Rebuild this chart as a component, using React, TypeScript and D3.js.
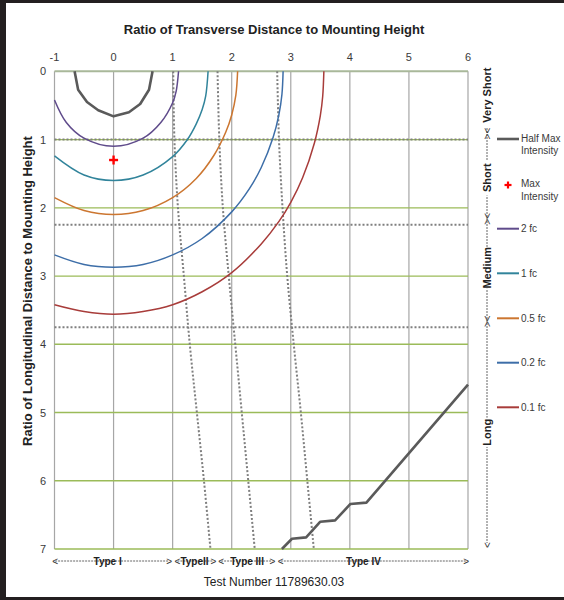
import React from 'react';
import * as d3 from 'd3';

// ---------- data ----------
const xTicks = [-1, 0, 1, 2, 3, 4, 5, 6];
const yTicks = [0, 1, 2, 3, 4, 5, 6, 7];
const zoneBounds = [1, 2.25, 3.75];

const typeLineY = [0, 1, 2, 3, 4, 5, 6, 7];
const typeLine1X = [1.01, 1.03, 1.09, 1.19, 1.29, 1.41, 1.53, 1.64];
const typeLine2X = [1.76, 1.79, 1.85, 1.95, 2.06, 2.17, 2.28, 2.39];
const typeLine3X = [2.77, 2.8, 2.86, 2.94, 3.05, 3.17, 3.28, 3.39];

const halfMaxNear: [number, number][] = [
  [-0.66, 0], [-0.6, 0.27], [-0.45, 0.45], [-0.26, 0.57], [0, 0.66],
  [0.26, 0.6], [0.45, 0.48], [0.6, 0.27], [0.66, 0],
];
const halfMaxFar: [number, number][] = [
  [2.85, 7.0], [3.02, 6.85], [3.26, 6.83], [3.5, 6.6], [3.75, 6.58],
  [4.01, 6.34], [4.28, 6.32], [6.0, 4.59],
];
const maxIntensity: [number, number] = [0, 1.3];

const fc2: [number, number][] = [
  [-1, 0.42], [-0.8, 0.75], [-0.5, 0.98], [0, 1.1], [0.5, 0.98], [0.8, 0.75],
  [1, 0.46], [1.06, 0.29], [1.1, 0],
];
const fc1: [number, number][] = [
  [-1, 1.24], [-0.5, 1.52], [0, 1.6], [0.5, 1.52], [1, 1.25], [1.25, 1.0],
  [1.4, 0.77], [1.5, 0.56], [1.56, 0.36], [1.6, 0],
];
const fc05: [number, number][] = [
  [-1, 1.85], [-0.5, 2.04], [0, 2.1], [0.5, 2.04], [1, 1.85], [1.4, 1.57],
  [1.7, 1.23], [1.9, 0.89], [2.0, 0.64], [2.07, 0.35], [2.1, 0],
];
const fc02: [number, number][] = [
  [-1, 2.69], [-0.5, 2.83], [0, 2.87], [0.5, 2.83], [1, 2.69], [1.5, 2.45],
  [2, 2.06], [2.3, 1.72], [2.5, 1.41], [2.7, 0.97], [2.8, 0.63], [2.85, 0.34], [2.87, 0],
];
const fc01: [number, number][] = [
  [-1, 3.42], [-0.5, 3.52], [0, 3.56], [0.5, 3.52], [1, 3.42], [1.5, 3.23],
  [2, 2.95], [2.5, 2.53], [2.8, 2.2], [3, 1.92], [3.2, 1.56], [3.4, 1.05],
  [3.5, 0.65], [3.54, 0.37], [3.56, 0],
];

const typeNames = ['Type I', 'TypeII', 'Type III', 'Type IV'];
const typeRanges: [number, number][] = [[-1.04, 0.99], [1.03, 1.74], [1.77, 2.74], [2.78, 6.02]];
const typeLabelX = [-0.1, 1.37, 2.26, 4.23];

const zoneNames = ['Very Short', 'Short', 'Medium', 'Long'];
const zoneLabelY = [0.35, 1.56, 2.88, 5.29];

const contourNames = ['2 fc', '1 fc', '0.5 fc', '0.2 fc', '0.1 fc'];
const contourColors = ['#5f4b8b', '#31849b', '#cc7630', '#3d6ea8', '#a83c3a'];

// ---------- layout ----------
const W = 564;
const H = 600;
const FONT = '"Liberation Sans", Arial, sans-serif';

export default function App() {
  const x = d3.scaleLinear().domain([-1, 6]).range([54.5, 468]);
  const y = d3.scaleLinear().domain([0, 7]).range([71.3, 549]);

  const smooth = d3
    .line<[number, number]>()
    .x((d) => x(d[0]))
    .y((d) => y(d[1]))
    .curve(d3.curveCatmullRom.alpha(0.5));
  const straight = d3
    .line<[number, number]>()
    .x((d) => x(d[0]))
    .y((d) => y(d[1]));

  const contours = [fc2, fc1, fc05, fc02, fc01];
  const typeLines = [typeLine1X, typeLine2X, typeLine3X].map((xs) =>
    xs.map((v, i) => [v, typeLineY[i]] as [number, number])
  );

  const axisX = 487;
  const legendX1 = 497;
  const legendX2 = 519;
  const legendY = [139, 185, 228.7, 273.3, 318.3, 362.7, 407.3];

  const textColor = '#3a3a3a';

  return (
    <svg
      width={W}
      height={H}
      style={{ position: 'absolute', left: 0, top: 0, background: '#fff' }}
      fontFamily={FONT}
    >
      <rect x={0} y={0} width={W} height={H} fill="#fff" />
      <rect x={3} y={0} width={W + 20} height={H} fill="none" stroke="#231f20" strokeWidth={6} />

      {/* title */}
      <text x={274} y={34} textAnchor="middle" fontSize={13} fontWeight="bold" fill="#222">
        Ratio of Transverse Distance to Mounting Height
      </text>

      {/* vertical grid */}
      {xTicks.map((t) => (
        <line key={'vx' + t} x1={x(t)} x2={x(t)} y1={y(0)} y2={y(7)} stroke="#a6a6a6" strokeWidth={1.2} />
      ))}
      {/* horizontal grid */}
      {yTicks.map((t) => (
        <line
          key={'hy' + t}
          x1={x(-1)}
          x2={x(6)}
          y1={y(t)}
          y2={y(t)}
          stroke={t === 0 ? '#a9b89a' : '#9bbb59'}
          strokeWidth={t === 0 ? 2 : 1.3}
        />
      ))}

      {/* tick labels */}
      {xTicks.map((t) => (
        <text key={'tx' + t} x={x(t)} y={61} textAnchor="middle" fontSize={11} fill={textColor}>
          {t}
        </text>
      ))}
      {yTicks.map((t) => (
        <text key={'ty' + t} x={46} y={y(t) + 4} textAnchor="end" fontSize={11} fill={textColor}>
          {t}
        </text>
      ))}

      {/* left title */}
      <text
        transform={`translate(32, 291) rotate(-90)`}
        textAnchor="middle"
        fontSize={13}
        fontWeight="bold"
        fill="#222"
      >
        Ratio of Longitudinal Distance to Mounting Height
      </text>

      {/* zone dotted lines */}
      {zoneBounds.map((b) => (
        <line
          key={'zb' + b}
          x1={x(-1)}
          x2={x(6)}
          y1={y(b)}
          y2={y(b)}
          stroke="#7f7f7f"
          strokeWidth={2}
          strokeDasharray="2 2"
        />
      ))}
      {/* type dotted lines */}
      {typeLines.map((pts, i) => (
        <path
          key={'tl' + i}
          d={smooth(pts) || ''}
          fill="none"
          stroke="#7f7f7f"
          strokeWidth={2}
          strokeDasharray="2 2"
        />
      ))}

      {/* contours */}
      {contours.map((pts, i) => (
        <path key={'c' + i} d={smooth(pts) || ''} fill="none" stroke={contourColors[i]} strokeWidth={1.5} />
      ))}

      {/* half max */}
      <path d={straight(halfMaxNear) || ''} fill="none" stroke="#5a5a5a" strokeWidth={2.6} strokeLinejoin="round" />
      <path d={straight(halfMaxFar) || ''} fill="none" stroke="#5a5a5a" strokeWidth={2.6} strokeLinejoin="round" />

      {/* max intensity */}
      <g transform={`translate(${x(maxIntensity[0])}, ${y(maxIntensity[1])})`}>
        <line x1={-4.5} x2={4.5} y1={0} y2={0} stroke="#ff0000" strokeWidth={2.4} />
        <line x1={0} x2={0} y1={-4.5} y2={4.5} stroke="#ff0000" strokeWidth={2.4} />
      </g>

      {/* type row */}
      {typeNames.map((n, i) => {
        const [a, b] = typeRanges[i];
        const cy = 561;
        return (
          <g key={'ty' + n}>
            <line x1={x(a) + 3} x2={x(b) - 3} y1={cy} y2={cy} stroke="#555" strokeWidth={0.9} strokeDasharray="2 1" />
            <text x={x(a)} y={cy + 3.5} fontSize={10} fill="#333">
              {'<'}
            </text>
            <text x={x(b)} y={cy + 3.5} fontSize={10} fill="#333" textAnchor="end">
              {'>'}
            </text>
            <text x={x(typeLabelX[i])} y={cy + 3.5} fontSize={10} fontWeight="bold" textAnchor="middle" fill="#222">
              {n}
            </text>
          </g>
        );
      })}

      {/* bottom caption */}
      <text x={274} y={586} textAnchor="middle" fontSize={12} fill="#222">
        Test Number 11789630.03
      </text>

      {/* right zone axis */}
      <line x1={axisX} x2={axisX} y1={128} y2={543} stroke="#555" strokeWidth={0.9} strokeDasharray="2 1" />
      {zoneNames.map((n, i) => {
        const cy = y(zoneLabelY[i]);
        const len = n.length * 6.3 + 4;
        return (
          <g key={'zn' + n}>
            {i > 0 && <rect x={axisX - 7} y={cy - len / 2} width={14} height={len} fill="#fff" />}
            <text
              transform={`translate(${axisX + 4}, ${cy}) rotate(-90)`}
              textAnchor="middle"
              fontSize={11}
              fontWeight="bold"
              fill="#222"
            >
              {n}
            </text>
          </g>
        );
      })}
      {zoneBounds.map((b) => (
        <text
          key={'zc' + b}
          transform={`translate(${axisX + 3.5}, ${y(b) - 6}) rotate(-90)`}
          textAnchor="middle"
          fontSize={10}
          fill="#333"
        >
          {'><'}
        </text>
      ))}
      <text transform={`translate(${axisX + 3.5}, 545) rotate(-90)`} textAnchor="middle" fontSize={10} fill="#333">
        {'<'}
      </text>

      {/* legend */}
      <line x1={legendX1} x2={legendX2} y1={legendY[0]} y2={legendY[0]} stroke="#5a5a5a" strokeWidth={2.6} />
      <text x={521} y={legendY[0] + 3} fontSize={10} fill={textColor}>
        Half Max
      </text>
      <text x={521} y={legendY[0] + 15} fontSize={10} fill={textColor}>
        Intensity
      </text>
      <g transform={`translate(508, ${legendY[1]})`}>
        <line x1={-3.5} x2={3.5} y1={0} y2={0} stroke="#ff0000" strokeWidth={2.2} />
        <line x1={0} x2={0} y1={-3.5} y2={3.5} stroke="#ff0000" strokeWidth={2.2} />
      </g>
      <text x={521} y={legendY[1] + 2} fontSize={10} fill={textColor}>
        Max
      </text>
      <text x={521} y={legendY[1] + 15} fontSize={10} fill={textColor}>
        Intensity
      </text>
      {contourNames.map((n, i) => (
        <g key={'lg' + n}>
          <line x1={legendX1} x2={legendX2} y1={legendY[i + 2]} y2={legendY[i + 2]} stroke={contourColors[i]} strokeWidth={2} />
          <text x={521} y={legendY[i + 2] + 3.5} fontSize={10} fill={textColor}>
            {n}
          </text>
        </g>
      ))}
    </svg>
  );
}
